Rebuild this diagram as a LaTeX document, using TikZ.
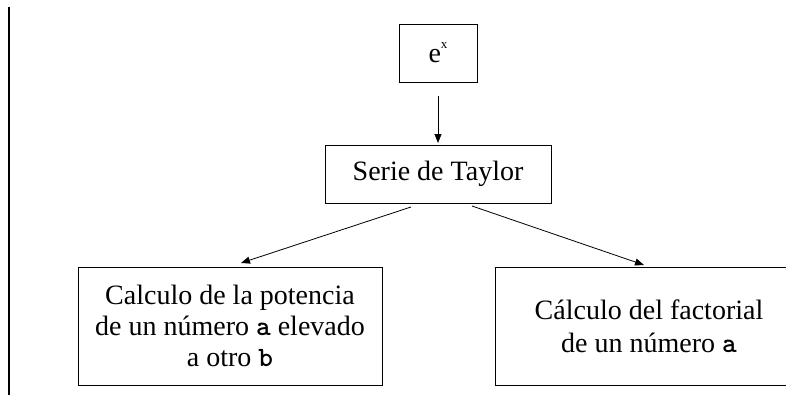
\documentclass[tikz,border=0pt]{standalone}
\usepackage{fontspec}
\setmainfont{Liberation Serif}
\newfontfamily\monofont{lmmonolt10-bold.otf}
\usetikzlibrary{arrows.meta}
\newcommand{\cvar}[1]{{\monofont #1}}
\begin{document}
\begin{tikzpicture}[x=1pt,y=-1pt,
  box/.style={draw=black,line width=0.9pt,rectangle,inner sep=0pt,align=center,
    font=\fontsize{28}{31}\selectfont},
  arr/.style={line width=0.8pt,-{Triangle[length=9pt,width=7pt]}}]
\useasboundingbox[fill=white] (0,0) rectangle (786,401);
\clip (0,0) rectangle (786,401);
\draw[line width=2.4pt] (8.7,7) -- (8.7,395);
\node[box,minimum width=78pt,minimum height=58pt] (ex) at (438,53)
  {e\raisebox{14pt}{\fontsize{13}{13}\selectfont x}};
\node[box,minimum width=226pt,minimum height=58pt] (serie) at (438,174) {Serie de Taylor};
\node[box,minimum width=304pt,minimum height=118pt] (pot) at (230,326)
  {Calculo de la potencia\\de un número \cvar{a} elevado\\a otro \cvar{b}};
\node[box,minimum width=308pt,minimum height=118pt,
  font=\fontsize{28}{33}\selectfont] (fac) at (649,326)
  {Cálculo del factorial\\de un número \cvar{a}};
\coordinate (a1s) at (438,96);
\coordinate (a1e) at (438,143);
\coordinate (a2s) at (411,207);
\coordinate (a2e) at (241,263);
\coordinate (a3s) at (472,206);
\coordinate (a3e) at (644,265);
\draw[arr] (a1s) -- (a1e);
\draw[arr] (a2s) -- (a2e);
\draw[arr] (a3s) -- (a3e);
\end{tikzpicture}
\end{document}
